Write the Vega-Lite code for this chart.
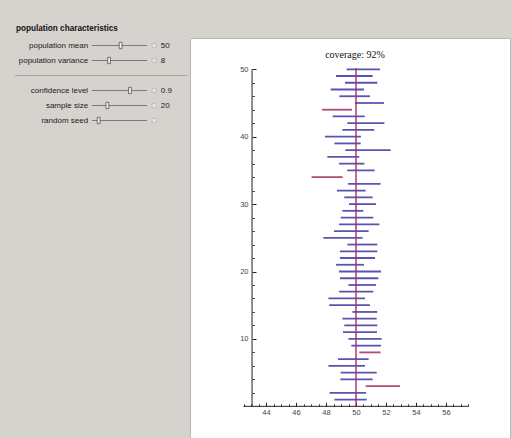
{
  "$schema": "https://vega.github.io/schema/vega-lite/v6.json",
  "background": "#d6d3ce",
  "padding": {"left": 0, "right": 2, "top": 23, "bottom": 0},
  "bounds": "flush",
  "spacing": 0,
  "config": {"view": {"stroke": null}, "font": "Liberation Sans"},
  "hconcat": [
    {
      "width": 190,
      "height": 90,
      "title": {"text": "population characteristics", "anchor": "start", "frame": "group", "dx": 16, "offset": 5, "fontSize": 8.2, "fontWeight": "bold", "font": "Liberation Sans", "color": "#111"},
      "data": {"values": [
        {"control": "population mean", "setting": 0.52, "shown": "50"},
        {"control": "population variance", "setting": 0.31, "shown": "8"},
        {"control": "confidence level", "setting": 0.69, "shown": "0.9"},
        {"control": "sample size", "setting": 0.28, "shown": "20"},
        {"control": "random seed", "setting": 0.12, "shown": ""}
      ]},
      "encoding": {
        "y": {"field": "control", "type": "nominal", "axis": null,
              "scale": {"type": "point", "padding": 0.5, "domain": ["population mean", "population variance", "separator", "confidence level", "sample size", "random seed"]}}
      },
      "layer": [
        {"mark": {"type": "text", "align": "right", "baseline": "middle", "fontSize": 8, "color": "#1a1a1a"},
         "encoding": {"x": {"datum": -0.07, "type": "quantitative", "scale": {"domain": [-1.673, 1.782], "nice": false, "zero": false}, "axis": null}, "text": {"field": "control"}}},
        {"mark": {"type": "rule", "color": "#7d7b78", "strokeWidth": 1.2},
         "encoding": {"x": {"datum": 0, "type": "quantitative"}, "x2": {"datum": 1}}},
        {"mark": {"type": "point", "shape": "M-0.45,-1L0.45,-1L0.45,1L-0.45,1Z", "size": 40, "filled": true, "fill": "#eeeeec", "stroke": "#555", "strokeWidth": 0.8, "opacity": 1},
         "encoding": {"x": {"field": "setting", "type": "quantitative"}}},
        {"mark": {"type": "point", "shape": "square", "size": 18, "filled": true, "fill": "#e6e4e0", "stroke": "#b5b3af", "strokeWidth": 0.7, "opacity": 1},
         "encoding": {"x": {"datum": 1.13, "type": "quantitative"}}},
        {"mark": {"type": "text", "align": "left", "baseline": "middle", "fontSize": 8, "color": "#1a1a1a"},
         "encoding": {"x": {"datum": 1.25, "type": "quantitative"}, "text": {"field": "shown"}}},
        {"data": {"values": [{}]},
         "mark": {"type": "rule", "color": "#a9a6a1", "strokeWidth": 1},
         "encoding": {"x": {"datum": -1.4, "type": "quantitative"}, "x2": {"datum": 1.75}, "y": {"datum": "separator", "type": "nominal"}}}
      ]
    },
    {
      "width": 320,
      "height": 400,
      "view": {"fill": "white", "stroke": "#b8b6b2"},
      "title": {"text": "coverage: 92%", "anchor": "middle", "frame": "group", "dx": 5, "offset": -22, "font": "Liberation Serif", "fontSize": 10, "fontWeight": "normal", "color": "#111"},
      "data": {"values": [
        {"sample": 1, "lower": 48.56, "upper": 50.71, "covers": "yes"},
        {"sample": 2, "lower": 48.24, "upper": 50.67, "covers": "yes"},
        {"sample": 3, "lower": 50.64, "upper": 52.93, "covers": "no"},
        {"sample": 4, "lower": 48.96, "upper": 51.11, "covers": "yes"},
        {"sample": 5, "lower": 48.98, "upper": 51.38, "covers": "yes"},
        {"sample": 6, "lower": 48.16, "upper": 50.6, "covers": "yes"},
        {"sample": 7, "lower": 48.8, "upper": 50.84, "covers": "yes"},
        {"sample": 8, "lower": 50.22, "upper": 51.64, "covers": "no"},
        {"sample": 9, "lower": 49.69, "upper": 51.67, "covers": "yes"},
        {"sample": 10, "lower": 49.49, "upper": 51.71, "covers": "yes"},
        {"sample": 11, "lower": 49.13, "upper": 51.4, "covers": "yes"},
        {"sample": 12, "lower": 49.22, "upper": 51.42, "covers": "yes"},
        {"sample": 13, "lower": 49.09, "upper": 51.38, "covers": "yes"},
        {"sample": 14, "lower": 49.76, "upper": 51.42, "covers": "yes"},
        {"sample": 15, "lower": 48.22, "upper": 50.93, "covers": "yes"},
        {"sample": 16, "lower": 48.16, "upper": 50.6, "covers": "yes"},
        {"sample": 17, "lower": 48.87, "upper": 51.16, "covers": "yes"},
        {"sample": 18, "lower": 49.49, "upper": 51.33, "covers": "yes"},
        {"sample": 19, "lower": 48.93, "upper": 51.49, "covers": "yes"},
        {"sample": 20, "lower": 48.87, "upper": 51.67, "covers": "yes"},
        {"sample": 21, "lower": 48.67, "upper": 50.53, "covers": "yes"},
        {"sample": 22, "lower": 48.93, "upper": 51.27, "covers": "yes"},
        {"sample": 23, "lower": 48.93, "upper": 51.42, "covers": "yes"},
        {"sample": 24, "lower": 49.42, "upper": 51.42, "covers": "yes"},
        {"sample": 25, "lower": 47.82, "upper": 50.44, "covers": "yes"},
        {"sample": 26, "lower": 48.53, "upper": 50.84, "covers": "yes"},
        {"sample": 27, "lower": 48.87, "upper": 51.56, "covers": "yes"},
        {"sample": 28, "lower": 48.98, "upper": 51.16, "covers": "yes"},
        {"sample": 29, "lower": 49.09, "upper": 50.49, "covers": "yes"},
        {"sample": 30, "lower": 49.53, "upper": 51.33, "covers": "yes"},
        {"sample": 31, "lower": 49.22, "upper": 51.11, "covers": "yes"},
        {"sample": 32, "lower": 48.73, "upper": 50.64, "covers": "yes"},
        {"sample": 33, "lower": 49.47, "upper": 51.64, "covers": "yes"},
        {"sample": 34, "lower": 47.04, "upper": 49.11, "covers": "no"},
        {"sample": 35, "lower": 49.42, "upper": 51.24, "covers": "yes"},
        {"sample": 36, "lower": 48.87, "upper": 50.56, "covers": "yes"},
        {"sample": 37, "lower": 48.09, "upper": 50.22, "covers": "yes"},
        {"sample": 38, "lower": 49.29, "upper": 52.31, "covers": "yes"},
        {"sample": 39, "lower": 48.56, "upper": 50.31, "covers": "yes"},
        {"sample": 40, "lower": 47.93, "upper": 50.33, "covers": "yes"},
        {"sample": 41, "lower": 49.09, "upper": 51.22, "covers": "yes"},
        {"sample": 42, "lower": 49.42, "upper": 51.89, "covers": "yes"},
        {"sample": 43, "lower": 48.44, "upper": 50.58, "covers": "yes"},
        {"sample": 44, "lower": 47.73, "upper": 49.73, "covers": "no"},
        {"sample": 45, "lower": 49.93, "upper": 51.87, "covers": "yes"},
        {"sample": 46, "lower": 48.89, "upper": 50.93, "covers": "yes"},
        {"sample": 47, "lower": 48.31, "upper": 50.53, "covers": "yes"},
        {"sample": 48, "lower": 49.27, "upper": 51.42, "covers": "yes"},
        {"sample": 49, "lower": 48.67, "upper": 51.11, "covers": "yes"},
        {"sample": 50, "lower": 49.38, "upper": 51.6, "covers": "yes"}
      ]},
      "resolve": {"axis": {"x": "independent", "y": "independent"}},
      "layer": [
        {"mark": {"type": "rule", "strokeWidth": 1.8},
         "encoding": {
           "x": {"field": "lower", "type": "quantitative",
                 "scale": {"domain": [38.933, 60.267], "nice": false, "zero": false},
                 "axis": {"orient": "bottom", "offset": -31.7, "domain": false, "grid": false, "title": null,
                          "values": [44, 46, 48, 50, 52, 54, 56], "tickSize": -4, "tickColor": "#222", "labelPadding": 6,
                          "labelFontSize": 7.5, "labelColor": "#444", "labelFont": "Liberation Sans"}},
           "x2": {"field": "upper"},
           "y": {"field": "sample", "type": "quantitative",
                 "scale": {"domain": [-4.70, 54.64], "nice": false, "zero": false},
                 "axis": {"orient": "left", "offset": -62, "domain": false, "grid": false, "title": null,
                          "values": [10, 20, 30, 40, 50], "tickSize": -4, "tickColor": "#222", "labelPadding": 8,
                          "labelFontSize": 7.5, "labelColor": "#444", "labelFont": "Liberation Sans"}},
           "color": {"field": "covers", "type": "nominal", "legend": null,
                     "scale": {"domain": ["yes", "no"], "range": ["#5b54ae", "#b14a76"]}}
         }},
        {"data": {"values": [{}]},
         "mark": {"type": "rule", "color": "#a3306b", "strokeWidth": 1.4},
         "encoding": {
           "x": {"datum": 50, "type": "quantitative",
                 "axis": {"orient": "bottom", "offset": -31.7, "domain": false, "grid": false, "title": null, "labels": false,
                          "values": [42.5, 43, 43.5, 44.5, 45, 45.5, 46.5, 47, 47.5, 48.5, 49, 49.5, 50.5, 51, 51.5, 52.5, 53, 53.5, 54.5, 55, 55.5, 56.5, 57, 57.5],
                          "tickSize": -2.5, "tickColor": "#444"}},
           "y": {"datum": 0, "type": "quantitative",
                 "axis": {"orient": "left", "offset": -62, "domain": false, "grid": false, "title": null, "labels": false,
                          "values": [2, 4, 6, 8, 12, 14, 16, 18, 22, 24, 26, 28, 32, 34, 36, 38, 42, 44, 46, 48],
                          "tickSize": -2.5, "tickColor": "#444"}},
           "y2": {"datum": 50.2}
         }},
        {"data": {"values": [{}]},
         "mark": {"type": "rule", "color": "#222", "strokeWidth": 1},
         "encoding": {"x": {"datum": 42.5, "type": "quantitative", "axis": null}, "x2": {"datum": 57.5}, "y": {"datum": 0, "type": "quantitative", "axis": null}}},
        {"data": {"values": [{}]},
         "mark": {"type": "rule", "color": "#222", "strokeWidth": 1},
         "encoding": {"x": {"datum": 43.07, "type": "quantitative", "axis": null}, "y": {"datum": 0, "type": "quantitative", "axis": null}, "y2": {"datum": 50}}}
      ]
    }
  ]
}
